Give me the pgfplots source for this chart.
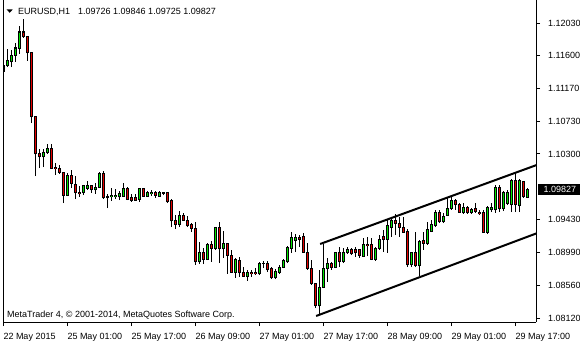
\documentclass[border=0pt]{standalone}
\usepackage{fontspec}
\setmainfont{Liberation Sans}
\usepackage{xcolor}
\usepackage{pgfplots}
\usepackage{pgfplotstable}
\pgfplotsset{compat=1.18}
\colorlet{bull}{green!90!black}
\colorlet{bear}{red!90!black}

\pgfplotstableread{
x o h l c
0 1.11399 1.11532 1.11333 1.11466
1 1.11466 1.11691 1.11452 1.11532
2 1.11519 1.11678 1.11452 1.11611
3 1.11611 1.11770 1.11519 1.11704
4 1.11704 1.11996 1.11625 1.11916
5 1.11916 1.12088 1.11837 1.11850
6 1.11850 1.11863 1.11532 1.11638
7 1.11638 1.11651 1.10710 1.10790
8 1.10790 1.10790 1.10008 1.10300
9 1.10300 1.10366 1.10114 1.10260
10 1.10260 1.10366 1.10127 1.10326
11 1.10313 1.10432 1.10300 1.10379
12 1.10366 1.10432 1.10114 1.10114
13 1.10127 1.10180 1.10021 1.10101
14 1.10101 1.10154 1.10035 1.10061
15 1.10048 1.10061 1.09650 1.09756
16 1.09756 1.10048 1.09743 1.10021
17 1.10021 1.10088 1.09849 1.09915
18 1.09902 1.10008 1.09703 1.09783
19 1.09796 1.09876 1.09730 1.09770
20 1.09783 1.09889 1.09756 1.09876
21 1.09849 1.09942 1.09823 1.09876
22 1.09876 1.09889 1.09783 1.09823
23 1.09823 1.09915 1.09770 1.09862
24 1.09862 1.10061 1.09849 1.10035
25 1.10035 1.10074 1.09703 1.09717
26 1.09730 1.09770 1.09584 1.09717
27 1.09730 1.09849 1.09677 1.09756
28 1.09730 1.09836 1.09703 1.09756
29 1.09730 1.09809 1.09690 1.09770
30 1.09743 1.09915 1.09730 1.09849
31 1.09849 1.09862 1.09690 1.09703
32 1.09717 1.09770 1.09664 1.09690
33 1.09717 1.09770 1.09677 1.09690
34 1.09703 1.09849 1.09664 1.09849
35 1.09836 1.09849 1.09730 1.09743
36 1.09743 1.09809 1.09730 1.09783
37 1.09770 1.09823 1.09743 1.09796
38 1.09796 1.09809 1.09717 1.09756
39 1.09743 1.09809 1.09730 1.09783
40 1.09783 1.09796 1.09756 1.09780
41 1.09783 1.09796 1.09650 1.09664
42 1.09677 1.09703 1.09332 1.09412
43 1.09425 1.09491 1.09306 1.09372
44 1.09372 1.09544 1.09332 1.09491
45 1.09491 1.09518 1.09412 1.09425
46 1.09425 1.09478 1.09332 1.09346
47 1.09359 1.09385 1.09266 1.09319
48 1.09319 1.09399 1.08829 1.08869
49 1.08869 1.09134 1.08842 1.09001
50 1.09001 1.09054 1.08842 1.08908
51 1.08908 1.09120 1.08895 1.09107
52 1.09107 1.09147 1.08869 1.09054
53 1.09054 1.09332 1.09028 1.09332
54 1.09332 1.09399 1.08855 1.09041
55 1.09041 1.09279 1.08922 1.09120
56 1.09120 1.09120 1.08710 1.08961
57 1.08961 1.09028 1.08723 1.08736
58 1.08736 1.08922 1.08657 1.08908
59 1.08895 1.08935 1.08670 1.08723
60 1.08723 1.08802 1.08670 1.08683
61 1.08683 1.08763 1.08617 1.08723
62 1.08736 1.08763 1.08670 1.08710
63 1.08736 1.08789 1.08696 1.08710
64 1.08710 1.08869 1.08696 1.08855
65 1.08855 1.08882 1.08789 1.08852
66 1.08855 1.08882 1.08736 1.08763
67 1.08776 1.08802 1.08643 1.08657
68 1.08657 1.08776 1.08643 1.08749
69 1.08736 1.08829 1.08710 1.08802
70 1.08802 1.08908 1.08789 1.08882
71 1.08869 1.09081 1.08855 1.09067
72 1.09054 1.09266 1.08988 1.09187
73 1.09160 1.09240 1.09001 1.09187
74 1.09187 1.09226 1.09067 1.09173
75 1.09200 1.09253 1.08988 1.09001
76 1.09001 1.09120 1.08763 1.08789
77 1.08789 1.08895 1.08564 1.08590
78 1.08590 1.08590 1.08259 1.08286
79 1.08286 1.08763 1.08166 1.08537
80 1.08537 1.09107 1.08524 1.08776
81 1.08776 1.08922 1.08604 1.08855
82 1.08855 1.08869 1.08763 1.08802
83 1.08802 1.09001 1.08789 1.09001
84 1.09001 1.09067 1.08802 1.08869
85 1.08869 1.09054 1.08855 1.09001
86 1.08988 1.09067 1.08975 1.09028
87 1.09028 1.09054 1.08961 1.08975
88 1.09028 1.09067 1.08935 1.08988
89 1.09028 1.09041 1.08922 1.08961
90 1.08948 1.09187 1.08935 1.09094
91 1.09107 1.09200 1.08948 1.09081
92 1.09107 1.09187 1.08895 1.08908
93 1.08908 1.09067 1.08882 1.09054
94 1.09054 1.09226 1.09028 1.09173
95 1.09200 1.09293 1.09001 1.09173
96 1.09173 1.09438 1.08988 1.09346
97 1.09332 1.09465 1.09200 1.09412
98 1.09412 1.09505 1.09226 1.09385
99 1.09385 1.09465 1.09200 1.09332
100 1.09332 1.09465 1.09253 1.09266
101 1.09279 1.09306 1.08802 1.08829
102 1.08829 1.09001 1.08802 1.08988
103 1.08988 1.09266 1.08802 1.08816
104 1.08816 1.09160 1.08683 1.09134
105 1.09160 1.09266 1.09028 1.09120
106 1.09120 1.09399 1.09094 1.09293
107 1.09279 1.09425 1.09266 1.09359
108 1.09346 1.09558 1.09332 1.09518
109 1.09518 1.09558 1.09385 1.09399
110 1.09399 1.09518 1.09385 1.09465
111 1.09491 1.09730 1.09478 1.09584
112 1.09571 1.09730 1.09558 1.09690
113 1.09690 1.09703 1.09558 1.09624
114 1.09624 1.09650 1.09518 1.09531
115 1.09518 1.09650 1.09505 1.09597
116 1.09597 1.09611 1.09505 1.09518
117 1.09518 1.09584 1.09505 1.09558
118 1.09571 1.09650 1.09518 1.09544
119 1.09531 1.09558 1.09491 1.09505
120 1.09518 1.09558 1.09253 1.09266
121 1.09266 1.09611 1.09240 1.09597
122 1.09558 1.09650 1.09531 1.09597
123 1.09558 1.09889 1.09518 1.09862
124 1.09862 1.09889 1.09531 1.09571
125 1.09571 1.09809 1.09544 1.09796
126 1.09650 1.09823 1.09624 1.09796
127 1.09624 1.09968 1.09531 1.09955
128 1.09955 1.10048 1.09531 1.09624
129 1.09611 1.09968 1.09531 1.09942
130 1.09929 1.09942 1.09717 1.09730
131 1.09726 1.09846 1.09725 1.09827
}\candles

\begin{document}
\begin{tikzpicture}
\useasboundingbox (0pt,0pt) rectangle (580pt,340pt);
\begin{axis}[
  at={(3pt,18pt)}, anchor=south west,
  scale only axis, width=533pt, height=322pt,
  xmin=-0.075, xmax=133.175, ymin=1.080736, ymax=1.123401,
  axis x line=bottom, axis y line=right,
  axis line style={-, line width=1pt, black},
  tick align=outside, major tick length=4pt,
  tick style={black, line width=1pt},
  xtick={0,16,32,48,64,80,96,112,128},
  xticklabels={22 May 2015,25 May 01:00,25 May 17:00,26 May 09:00,27 May 01:00,27 May 17:00,28 May 09:00,29 May 01:00,29 May 17:00},
  ytick={1.08120,1.08560,1.08990,1.09430,1.10300,1.10730,1.11170,1.11600,1.12030},
  yticklabels={1.08120,1.08560,1.08990,1.09430,1.10300,1.10730,1.11170,1.11600,1.12030},
  tick label style={font=\fontsize{9}{10}\selectfont, black},
  xticklabel style={anchor=base west, inner sep=0pt, yshift=-13.5pt},
  yticklabel style={anchor=west, inner sep=0pt, xshift=8pt},
]
% wicks
\addplot[draw=none, mark=none, error bars/.cd, y dir=plus, y explicit, error mark=none,
  error bar style={draw=black, line width=1pt}]
  table[x=x, y=l, y error expr=\thisrow{h}-\thisrow{l}] {\candles};
% body outlines (black, 1 px beyond open/close)
\addplot[draw=none, mark=none, error bars/.cd, y dir=plus, y explicit, error mark=none,
  error bar style={draw=black, line width=3.4pt}]
  table[x=x, y expr={min(\thisrow{o},\thisrow{c})-0.000066}, y error expr={abs(\thisrow{c}-\thisrow{o})+0.000133}] {\candles};
% bull interiors
\addplot[color=bull, draw=none, mark=none, error bars/.cd, y dir=plus, y explicit, error mark=none,
  error bar style={color=bull, draw=bull, line width=1.6pt}]
  table[x=x, y expr={\thisrow{o}+0.000066}, y error expr={max(\thisrow{c}-\thisrow{o}-0.000133,0)}] {\candles};
% bear interiors
\addplot[color=bear, draw=none, mark=none, error bars/.cd, y dir=plus, y explicit, error mark=none,
  error bar style={color=bear, draw=bear, line width=1.6pt}]
  table[x=x, y expr={\thisrow{c}+0.000066}, y error expr={max(\thisrow{o}-\thisrow{c}-0.000133,0)}] {\candles};
% channel
\addplot[black, line width=2pt, mark=none] coordinates {(79.2,1.09107) (133.35,1.10154)};
\addplot[black, line width=2pt, mark=none] coordinates {(78.2,1.08153) (133.35,1.09249)};
\end{axis}
\draw[line width=1pt, black] (3pt,18pt) -- (3pt,340pt);
\node[anchor=west, fill=black, text=white, inner xsep=6pt, inner ysep=0pt, minimum height=10.5pt,
  font=\fontsize{9}{10}\selectfont] at (537.5pt,150.3pt) {1.09827};
\fill[black] (6.7pt,330.5pt) -- (12.7pt,330.5pt) -- (9.7pt,327.2pt) -- cycle;
\node[anchor=base west, inner sep=0pt, font=\fontsize{9}{10}\selectfont] at (18pt,325pt) {EURUSD,H1};
\node[anchor=base west, inner sep=0pt, font=\fontsize{9}{10}\selectfont] at (78pt,325pt) {1.09726 1.09846 1.09725 1.09827};
\node[anchor=base west, inner sep=0pt, font=\fontsize{9}{10}\selectfont] at (7pt,23pt) {MetaTrader 4, © 2001-2014, MetaQuotes Software Corp.};
\end{tikzpicture}
\end{document}
